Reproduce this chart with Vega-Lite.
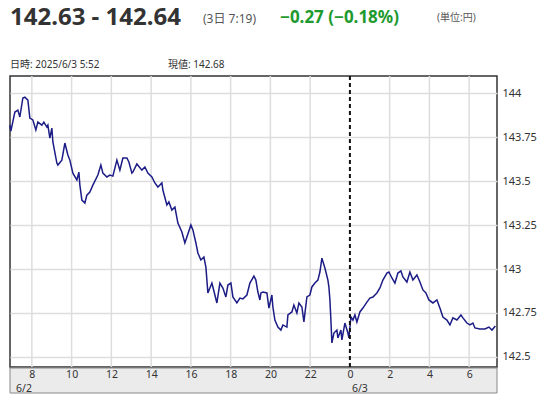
{
  "$schema": "https://vega.github.io/schema/vega-lite/v6.json",
  "width": 487,
  "height": 291,
  "autosize": "none",
  "padding": {"left": 10, "top": 76, "right": 51, "bottom": 33},
  "background": "white",
  "config": {
    "view": {"stroke": "#333333", "strokeWidth": 1.5},
    "font": "Noto Sans, Noto Sans CJK JP",
    "axis": {"labelFont": "Noto Sans", "labelFontSize": 11, "labelColor": "#333333", "gridColor": "#dddddd", "gridWidth": 1.5}
  },
  "data": {"values": [
    {"t":6.893,"v":143.818},{"t":6.943,"v":143.784},{"t":7.145,"v":143.892},{"t":7.296,"v":143.903},{"t":7.396,"v":143.864},
    {"t":7.547,"v":143.972},{"t":7.648,"v":143.977},{"t":7.799,"v":143.960},{"t":7.899,"v":143.858},{"t":8.050,"v":143.847},
    {"t":8.201,"v":143.790},{"t":8.302,"v":143.835},{"t":8.503,"v":143.818},{"t":8.604,"v":143.835},{"t":8.755,"v":143.807},
    {"t":8.805,"v":143.818},{"t":8.906,"v":143.744},{"t":9.006,"v":143.801},{"t":9.057,"v":143.722},{"t":9.258,"v":143.602},
    {"t":9.308,"v":143.591},{"t":9.509,"v":143.619},{"t":9.660,"v":143.716},{"t":9.811,"v":143.648},{"t":9.912,"v":143.619},
    {"t":10.063,"v":143.545},{"t":10.264,"v":143.506},{"t":10.365,"v":143.551},{"t":10.415,"v":143.477},{"t":10.516,"v":143.392},
    {"t":10.667,"v":143.375},{"t":10.767,"v":143.420},{"t":10.918,"v":143.437},{"t":11.069,"v":143.477},{"t":11.321,"v":143.534},
    {"t":11.472,"v":143.591},{"t":11.572,"v":143.545},{"t":11.774,"v":143.523},{"t":11.925,"v":143.534},{"t":12.075,"v":143.528},
    {"t":12.277,"v":143.619},{"t":12.428,"v":143.562},{"t":12.579,"v":143.631},{"t":12.780,"v":143.631},{"t":12.881,"v":143.608},
    {"t":13.031,"v":143.545},{"t":13.082,"v":143.551},{"t":13.283,"v":143.597},{"t":13.535,"v":143.562},{"t":13.686,"v":143.580},
    {"t":13.836,"v":143.545},{"t":14.038,"v":143.523},{"t":14.189,"v":143.489},{"t":14.340,"v":143.466},{"t":14.541,"v":143.489},
    {"t":14.591,"v":143.449},{"t":14.792,"v":143.364},{"t":14.893,"v":143.381},{"t":15.044,"v":143.335},{"t":15.195,"v":143.352},
    {"t":15.346,"v":143.261},{"t":15.547,"v":143.210},{"t":15.698,"v":143.148},{"t":15.799,"v":143.182},{"t":16.000,"v":143.250},
    {"t":16.101,"v":143.222},{"t":16.252,"v":143.148},{"t":16.352,"v":143.091},{"t":16.503,"v":143.051},{"t":16.654,"v":143.068},
    {"t":16.755,"v":143.011},{"t":16.855,"v":142.864},{"t":17.057,"v":142.920},{"t":17.107,"v":142.898},{"t":17.308,"v":142.807},
    {"t":17.459,"v":142.920},{"t":17.610,"v":142.892},{"t":17.761,"v":142.841},{"t":17.862,"v":142.909},{"t":18.013,"v":142.920},
    {"t":18.113,"v":142.841},{"t":18.314,"v":142.807},{"t":18.465,"v":142.835},{"t":18.616,"v":142.830},{"t":18.818,"v":142.852},
    {"t":18.969,"v":142.920},{"t":19.170,"v":142.960},{"t":19.270,"v":142.937},{"t":19.371,"v":142.869},{"t":19.472,"v":142.824},
    {"t":19.522,"v":142.864},{"t":19.623,"v":142.869},{"t":19.824,"v":142.864},{"t":19.925,"v":142.778},{"t":20.075,"v":142.852},
    {"t":20.126,"v":142.784},{"t":20.226,"v":142.710},{"t":20.377,"v":142.670},{"t":20.528,"v":142.653},{"t":20.629,"v":142.682},
    {"t":20.830,"v":142.670},{"t":20.881,"v":142.739},{"t":21.082,"v":142.756},{"t":21.182,"v":142.795},{"t":21.333,"v":142.750},
    {"t":21.434,"v":142.807},{"t":21.585,"v":142.784},{"t":21.686,"v":142.699},{"t":21.836,"v":142.841},{"t":21.987,"v":142.852},
    {"t":22.088,"v":142.898},{"t":22.239,"v":142.920},{"t":22.390,"v":142.937},{"t":22.491,"v":142.983},{"t":22.591,"v":143.062},
    {"t":22.742,"v":143.006},{"t":22.893,"v":142.937},{"t":22.943,"v":142.898},{"t":22.994,"v":142.824},{"t":23.044,"v":142.710},
    {"t":23.094,"v":142.580},{"t":23.195,"v":142.636},{"t":23.346,"v":142.653},{"t":23.396,"v":142.608},{"t":23.547,"v":142.653},
    {"t":23.597,"v":142.597},{"t":23.748,"v":142.693},{"t":23.899,"v":142.636},{"t":23.950,"v":142.608},{"t":24.050,"v":142.727},
    {"t":24.151,"v":142.710},{"t":24.252,"v":142.739},{"t":24.352,"v":142.699},{"t":24.503,"v":142.756},{"t":24.654,"v":142.778},
    {"t":24.855,"v":142.812},{"t":25.006,"v":142.835},{"t":25.157,"v":142.841},{"t":25.358,"v":142.864},{"t":25.509,"v":142.892},
    {"t":25.660,"v":142.937},{"t":25.862,"v":142.977},{"t":25.962,"v":142.983},{"t":26.113,"v":142.949},{"t":26.264,"v":142.920},
    {"t":26.415,"v":142.977},{"t":26.566,"v":142.989},{"t":26.667,"v":142.955},{"t":26.868,"v":142.926},{"t":27.019,"v":142.983},
    {"t":27.170,"v":142.937},{"t":27.371,"v":142.966},{"t":27.522,"v":142.926},{"t":27.673,"v":142.881},{"t":27.824,"v":142.864},
    {"t":27.975,"v":142.824},{"t":28.176,"v":142.807},{"t":28.377,"v":142.824},{"t":28.528,"v":142.778},{"t":28.679,"v":142.727},
    {"t":28.881,"v":142.710},{"t":29.031,"v":142.682},{"t":29.182,"v":142.722},{"t":29.384,"v":142.710},{"t":29.585,"v":142.739},
    {"t":29.686,"v":142.722},{"t":29.887,"v":142.693},{"t":30.038,"v":142.682},{"t":30.189,"v":142.693},{"t":30.289,"v":142.665},
    {"t":30.541,"v":142.659},{"t":30.792,"v":142.659},{"t":30.994,"v":142.670},{"t":31.145,"v":142.653},{"t":31.317,"v":142.676}
  ]},
  "layer": [
    {
      "data": {"values": [{"band": "x-axis"}]},
      "mark": {"type": "rect", "fill": "#ebebeb", "stroke": "#888888", "strokeWidth": 1},
      "encoding": {
        "x": {"value": 0}, "x2": {"value": 487},
        "y": {"value": 292}, "y2": {"value": 317}
      }
    },
    {
      "data": {"values": [{"g": 8},{"g": 10},{"g": 12},{"g": 14},{"g": 16},{"g": 18},{"g": 20},{"g": 22},{"g": 26},{"g": 28},{"g": 30}]},
      "mark": {"type": "rule", "color": "#dddddd", "strokeWidth": 1.5},
      "encoding": {"x": {"field": "g", "type": "quantitative"}}
    },
    {
      "mark": {"type": "line", "color": "#1c1c86", "strokeWidth": 1.5},
      "encoding": {
        "x": {"field": "t", "type": "quantitative",
              "scale": {"domain": [6.9, 31.4], "nice": false, "zero": false},
              "axis": {"title": null, "values": [8,10,12,14,16,18,20,22,24,26,28,30],
                       "labelExpr": "datum.value % 24", "ticks": false, "domain": false,
                       "labelFontSize": 10.5, "labelPadding": 2, "labelBaseline": "top", "grid": false, "zindex": 2}},
        "y": {"field": "v", "type": "quantitative",
              "scale": {"domain": [142.443, 144.097], "nice": false, "zero": false},
              "axis": {"title": null, "orient": "right", "values": [142.5,142.75,143,143.25,143.5,143.75,144],
                       "labelExpr": "datum.value + ''", "ticks": false, "domain": false,
                       "labelPadding": 5, "grid": true}}
      }
    },
    {
      "data": {"values": [{"t": 24}]},
      "mark": {"type": "rule", "color": "#111111", "strokeWidth": 2, "strokeDash": [4, 3]},
      "encoding": {"x": {"field": "t", "type": "quantitative"}}
    },
    {
      "data": {"values": [{"t": 7.2, "lab": "6/2"}, {"t": 24.1, "lab": "6/3"}]},
      "mark": {"type": "text", "align": "left", "baseline": "middle", "fontSize": 10.5, "color": "#333333", "font": "Noto Sans"},
      "encoding": {
        "x": {"field": "t", "type": "quantitative"},
        "y": {"value": 313},
        "text": {"field": "lab"}
      }
    },
    {
      "data": {"values": [{"lab": "142.63 - 142.64"}]},
      "mark": {"type": "text", "align": "left", "baseline": "middle", "fontSize": 24, "fontWeight": "bold", "color": "#333333", "font": "Noto Sans"},
      "encoding": {"x": {"value": 0}, "y": {"value": -58}, "text": {"field": "lab"}}
    },
    {
      "data": {"values": [{"lab": "(3日 7:19)"}]},
      "mark": {"type": "text", "align": "left", "baseline": "middle", "fontSize": 12, "color": "#555555"},
      "encoding": {"x": {"value": 193}, "y": {"value": -57}, "text": {"field": "lab"}}
    },
    {
      "data": {"values": [{"lab": "−0.27  (−0.18%)"}]},
      "mark": {"type": "text", "align": "left", "baseline": "middle", "fontSize": 17, "fontWeight": "bold", "color": "#1e9a2e", "font": "Noto Sans"},
      "encoding": {"x": {"value": 270}, "y": {"value": -58}, "text": {"field": "lab"}}
    },
    {
      "data": {"values": [{"lab": "(単位:円)"}]},
      "mark": {"type": "text", "align": "left", "baseline": "middle", "fontSize": 10, "color": "#555555"},
      "encoding": {"x": {"value": 427}, "y": {"value": -58}, "text": {"field": "lab"}}
    },
    {
      "data": {"values": [{"lab": "日時: 2025/6/3  5:52", "px": 0}, {"lab": "現値: 142.68", "px": 158}]},
      "mark": {"type": "text", "align": "left", "baseline": "middle", "fontSize": 10, "color": "#333333"},
      "encoding": {"x": {"field": "px", "type": "quantitative", "scale": null}, "y": {"value": -11}, "text": {"field": "lab"}}
    }
  ]
}
